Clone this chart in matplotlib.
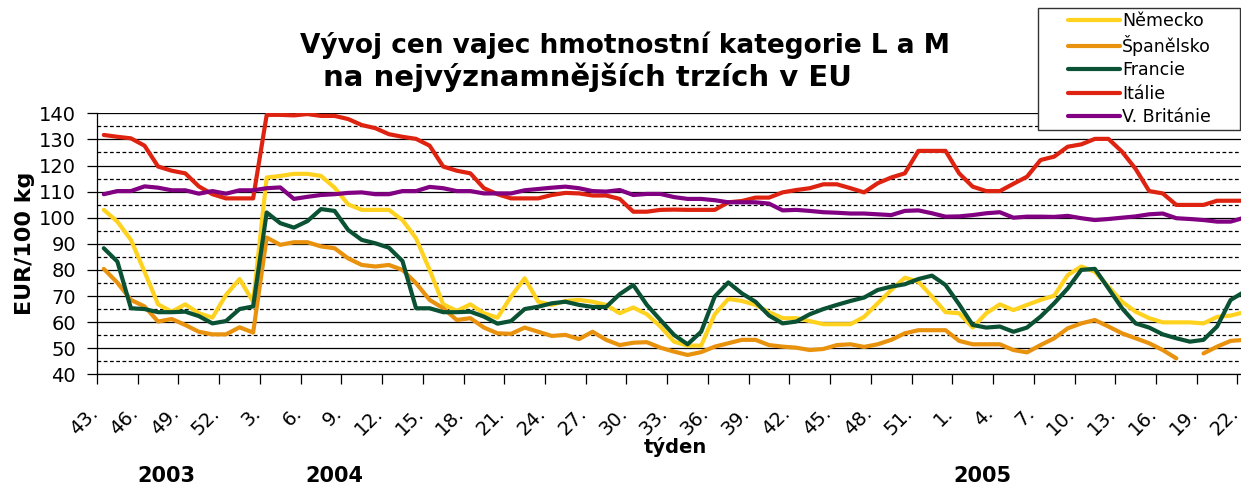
import numpy as np
import matplotlib.pyplot as plt
import matplotlib.transforms as mtransforms
from matplotlib.patches import Rectangle

# categories: weeks 43/2003 .. 22/2005 (2004 has 53 weeks)
weeks = list(range(43, 53)) + list(range(1, 54)) + list(range(1, 23))
years = ['2003', '2004', '2005']

nemecko = [103, 98.5, 91.5, 79.3, 66.8, 64, 66.8, 63.4, 61.7, 70.4, 76.5, 67.8, 115.4, 116, 116.8, 116.8, 116,
           111.5, 105.1, 103, 103, 103, 99.1, 92.1, 80, 66.8, 64.3, 66.8, 63.4, 61.7, 69.8, 76.8, 67.8, 66.6,
           68.1, 68.5, 67.8, 66.6, 63.4, 65.6, 63, 58.3, 52.5, 51, 51, 63, 68.9, 68.1, 66.6, 63.8, 61.5,
           61.5, 60.4, 59.2, 59.2, 59.2, 62, 67.2, 72.3, 77, 75.5, 69.8, 63.8, 63.4, 57.9, 63.4, 66.8, 64.6,
           66.6, 68.5, 70.1, 78, 81.3, 79.3, 73.6, 67.8, 64, 61.5, 59.9, 59.9, 59.9, 59.5, 62, 62.5, 63.8]
spanelsko = [80.4, 75.1, 68.5, 66, 60.2, 61.2, 58.9, 56.3, 55.3, 55.3, 58, 56, 92.4, 89.6, 90.6, 90.6, 89,
             88.3, 84.4, 81.9, 81.3, 81.9, 80, 74.9, 68.5, 65.3, 60.8, 61.5, 57.9, 55.7, 55.5, 57.9, 56.3, 54.7,
             55.1, 53.5, 56.3, 53.2, 51.2, 52.1, 52.3, 50.2, 48.7, 47.4, 48.5, 50.6, 51.9, 53.2, 53.2, 51.2, 50.6,
             50.2, 49.3, 49.7, 51.2, 51.5, 50.5, 51.5, 53.2, 55.7, 56.9, 56.9, 56.9, 52.8, 51.5, 51.5, 51.5, 49.3,
             48.4, 51.2, 53.8, 57.6, 59.5, 60.8, 58.3, 55.7, 53.8, 51.9, 49.3, 46.1, np.nan, 48, 50.6, 52.8, 53.2]
francie = [88.3, 83.2, 65.3, 65, 63.8, 63.8, 64, 62.3, 59.5, 60.4, 65, 66, 102, 97.9, 96.2, 98.7, 103.3,
           102.6, 95.3, 91.5, 90.2, 88.5, 83.4, 65.3, 65.3, 63.8, 63.8, 64, 62.1, 59.4, 60.4, 65, 65.9, 67.2,
           67.8, 66.6, 65.8, 65.8, 70.7, 74.2, 66.6, 60.8, 55.1, 51.5, 56.3, 69.8, 75.2, 71, 67.8, 62.5, 59.5,
           60.2, 63, 65, 66.6, 68.1, 69.4, 72.3, 73.6, 74.5, 76.5, 77.8, 74.2, 66.8, 58.9, 57.9, 58.3, 56.3,
           57.9, 62.1, 67.2, 72.9, 80, 80.4, 72.9, 65.3, 59.5, 57.9, 55.3, 53.8, 52.5, 53.2, 58.3, 68.5, 71.6]
italie = [131.7, 131, 130.4, 127.6, 119.6, 118, 117, 112, 109, 107.4, 107.4, 107.4, 139.4, 139.4, 139.2, 139.7, 139,
          139, 137.8, 135.5, 134.3, 132, 131, 130.2, 127.6, 119.6, 118, 117, 111.3, 109, 107.4, 107.4, 107.4, 108.7,
          109.5, 109.3, 108.5, 108.5, 107.2, 102.3, 102.3, 103, 103.1, 103, 103, 103, 105.9, 106.4, 107.7, 107.7, 109.7,
          110.6, 111.3, 112.8, 112.8, 111.3, 109.7, 113.2, 115.4, 117, 125.6, 125.6, 125.6, 117, 111.9, 110.2, 110.2, 113,
          115.7, 122.1, 123.4, 127.2, 128.1, 130.2, 130.2, 125.3, 118.7, 110.2, 109.3, 104.9, 104.9, 104.9, 106.5, 106.5, 106.5]
britanie = [109, 110.2, 110.2, 112, 111.5, 110.5, 110.5, 109.2, 110.2, 109.2, 110.5, 110.5, 111.3, 111.6, 107.2, 108, 108.7,
            109, 109.5, 109.7, 109, 109, 110.2, 110.2, 111.8, 111.3, 110.2, 110.2, 109.3, 109.3, 109.3, 110.5, 111, 111.5,
            111.9, 111.3, 110.2, 110, 110.6, 108.7, 109.1, 109.1, 107.9, 107.2, 107.2, 106.7, 105.9, 105.9, 105.9, 105.4, 102.8,
            103, 102.6, 102.1, 101.9, 101.6, 101.6, 101.3, 101, 102.6, 102.8, 101.7, 100.4, 100.5, 101, 101.7, 102.1, 100,
            100.4, 100.4, 100.3, 100.7, 99.8, 99.1, 99.5, 100, 100.5, 101.3, 101.6, 99.8, 99.5, 99.1, 98.5, 98.5, 100]

series = [('Německo', nemecko, '#FFD21F'),
          ('Španělsko', spanelsko, '#E8920E'),
          ('Francie', francie, '#0B5234'),
          ('Itálie', italie, '#DE2310'),
          ('V. Británie', britanie, '#820082')]

W, H = 1241, 487
fig = plt.figure(figsize=(W / 100, H / 100), dpi=100)
# plot area runs a bit past the right image edge, like the cropped original
ax = fig.add_axes([97 / W, 1 - 374.3 / H, (1251 - 97) / W, (374.3 - 113.3) / H])

x = np.arange(len(weeks))
for name, vals, col in series:
    ax.plot(x, vals, color=col, lw=3, label=name, solid_joinstyle='round', solid_capstyle='round', zorder=3)

ax.set_xlim(-0.5, len(weeks) - 0.5)
ax.set_ylim(40, 140)
ax.set_yticks(range(40, 141, 10))
ax.set_yticks(range(45, 140, 10), minor=True)
ax.grid(which='major', axis='y', color='black', lw=0.9)
ax.grid(which='minor', axis='y', color='black', lw=0.9, linestyle=(0, (3, 2)))
ax.tick_params(axis='y', which='major', direction='out', length=7, width=0.9, labelsize=14, pad=8)
ax.tick_params(axis='y', which='minor', length=0)

ax.set_xticks(x[::3])
ax.set_xticklabels([f'{w}.' for w in weeks[::3]], rotation=45, ha='right', va='center',
                   rotation_mode='anchor', fontsize=14)
ax.set_xticks(x[::3] - 0.5, minor=True)
ax.tick_params(axis='x', which='major', length=0, pad=26)
ax.tick_params(axis='x', which='minor', direction='out', length=7, width=0.9)
shift = mtransforms.ScaledTranslation(-9 / 100, 0, fig.dpi_scale_trans)
for lab in ax.get_xticklabels():
    lab.set_transform(lab.get_transform() + shift)

for s in ['top', 'right']:
    ax.spines[s].set_visible(False)
for s in ['left', 'bottom']:
    ax.spines[s].set_linewidth(0.9)

fig.text(625 / W, 1 - 45 / H, 'Vývoj cen vajec hmotnostní kategorie L a M',
         ha='center', va='center', fontsize=19, fontweight='bold')
fig.text(587 / W, 1 - 77 / H, 'na nejvýznamnějších trzích v EU',
         ha='center', va='center', fontsize=21, fontweight='bold')
fig.text(25 / W, 1 - 243 / H, 'EUR/100 kg', rotation=90, ha='center', va='center',
         fontsize=16, fontweight='bold')
fig.text(675 / W, 1 - 447 / H, 'týden', ha='center', va='center', fontsize=14, fontweight='bold')
for yr, xp in zip(years, [166, 334, 982]):
    fig.text(xp / W, 1 - 476 / H, yr, ha='center', va='center', fontsize=15, fontweight='bold')

# legend frame drawn separately (wide left margin as in the original)
fig.patches.append(Rectangle((1038 / W, 1 - 130 / H), (1240 - 1038) / W, 122 / H,
                             transform=fig.transFigure, facecolor='white', edgecolor='#333333',
                             lw=1.0, zorder=5))
leg = fig.legend(loc='upper left', bbox_to_anchor=(1068 / W, 1 - 12 / H), fontsize=12.5,
                 frameon=False, handlelength=3.0, handletextpad=0.12, labelspacing=0.3,
                 borderpad=0, borderaxespad=0)
leg.set_zorder(6)
for h in leg.get_lines():
    h.set_linewidth(3)
    h.set_solid_capstyle('round')

fig.savefig('out.png', dpi=100)
